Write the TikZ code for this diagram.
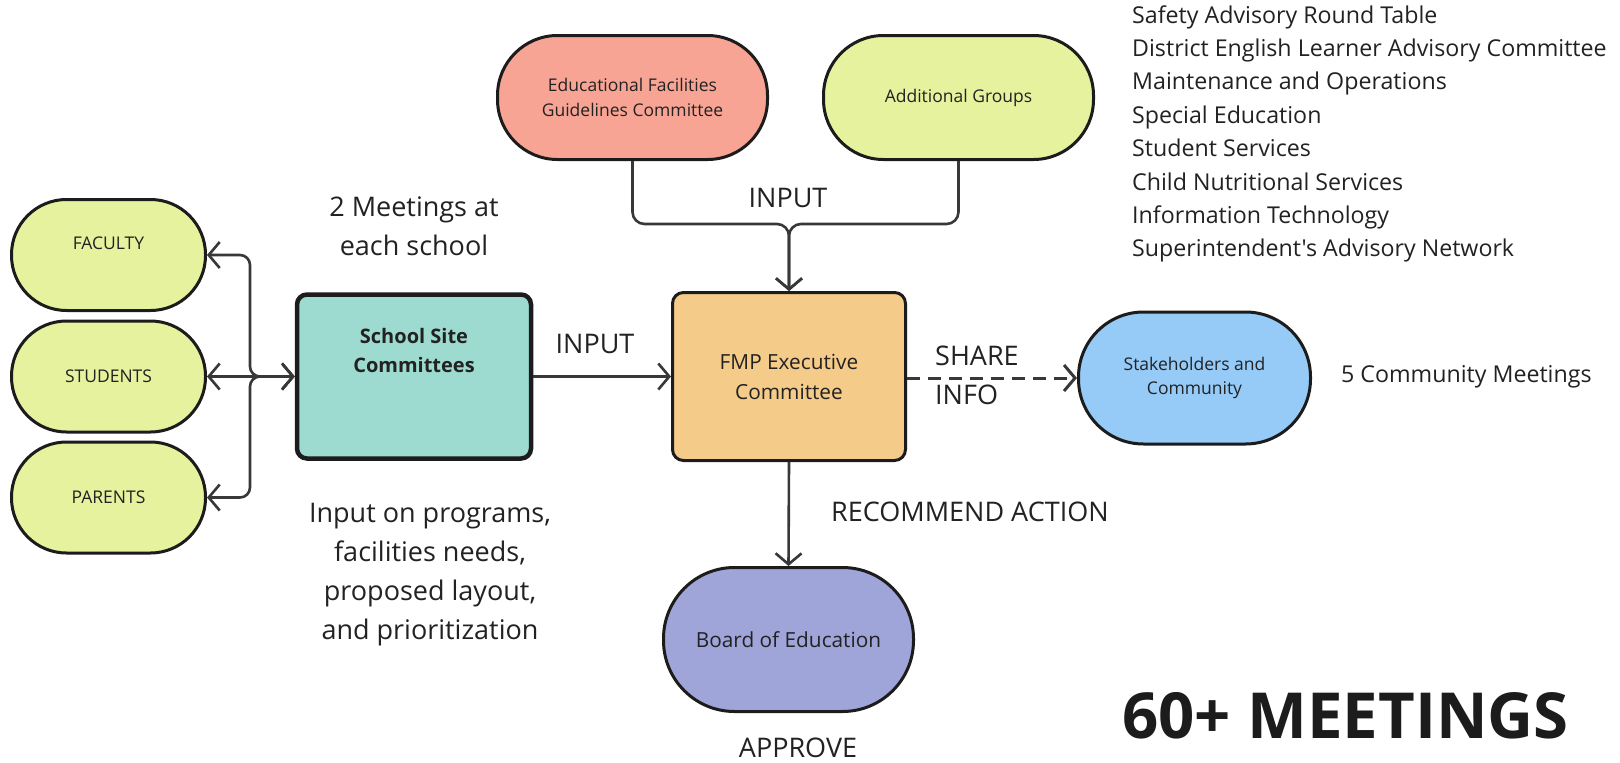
\documentclass[tikz,border=0pt]{standalone}
\usepackage{fontspec}
\setmainfont{Open Sans}[Ligatures=TeXOff]
\usetikzlibrary{arrows.meta}
\definecolor{ygreen}{HTML}{E6F29D}
\definecolor{salmon}{HTML}{F8A494}
\definecolor{teal}{HTML}{9DDBD0}
\definecolor{orangey}{HTML}{F5CB8A}
\definecolor{skyb}{HTML}{96CAF7}
\definecolor{lilac}{HTML}{9FA5D8}
\definecolor{linec}{HTML}{1C1C1C}
\definecolor{connc}{HTML}{383838}
\definecolor{txt}{HTML}{222222}
\newcommand\nodefont{\fontsize{17.5}{24.5}\selectfont}
\newcommand\bignodefont{\fontsize{20.8}{30}\selectfont}
\newcommand\labfont{\fontsize{27}{39}\selectfont}
\newcommand\listfont{\fontsize{23.2}{33.4}\selectfont}
\begin{document}
\begin{tikzpicture}[x=1pt,y=-1pt,
  shapebox/.style={draw=linec, line width=3pt, rectangle, inner sep=0pt, text=txt, align=center, font=\nodefont},
  conn/.style={draw=connc, line width=2.6pt, -{Straight Barb[length=11pt,width=26pt]}},
  biconn/.style={draw=connc, line width=2.6pt, {Straight Barb[length=11pt,width=26pt]}-{Straight Barb[length=11pt,width=26pt]}},
  dconn/.style={conn, line width=3pt, dash pattern=on 13pt off 8pt},
  lab/.style={text=txt, inner sep=0pt, align=center}]
\useasboundingbox[fill=white] (0,0) rectangle (1620,763);

% left group
\node[shapebox, fill=ygreen, minimum width=194pt, minimum height=111pt, rounded corners=55pt] (fac) at (108.5,255) {\raisebox{24pt}{FACULTY}};
\node[shapebox, fill=ygreen, minimum width=194pt, minimum height=111pt, rounded corners=55pt] (stu) at (108.5,376.5) {STUDENTS};
\node[shapebox, fill=ygreen, minimum width=194pt, minimum height=111pt, rounded corners=55pt] (par) at (108.5,497.5) {PARENTS};

% school site
\node[shapebox, fill=teal, line width=4.5pt, minimum width=234pt, minimum height=164pt, rounded corners=10pt] (ss) at (414,376.5) {};
\node[lab, font=\bfseries\fontsize{20}{29}\selectfont] (sstext) at (414,350.5) {School Site\\Committees};

% FMP
\node[shapebox, fill=orangey, minimum width=233pt, minimum height=168pt, rounded corners=11pt, font=\bignodefont] (fmp) at (789,376.5) {FMP Executive\\Committee};

% top
\node[shapebox, fill=salmon, minimum width=270pt, minimum height=124pt, rounded corners=60pt] (ef) at (632.5,97.5) {Educational Facilities\\Guidelines Committee};
\node[shapebox, fill=ygreen, minimum width=270pt, minimum height=124pt, rounded corners=60pt] (ag) at (958.5,97.5) {Additional Groups};

% stakeholders
\node[shapebox, fill=skyb, minimum width=232pt, minimum height=132pt, rounded corners=65pt] (sc) at (1194.5,378) {Stakeholders and\\Community};

% board
\node[shapebox, fill=lilac, minimum width=250pt, minimum height=144pt, rounded corners=71pt, font=\bignodefont] (boe) at (788.5,639.5) {Board of Education};

% connectors
\coordinate (bus) at (250,0);
\coordinate (mj) at (789,224);
\draw[biconn, rounded corners=10pt] (ss.west) -- (ss.west -| bus) |- (fac.east);
\draw[biconn] (ss.west) -- (stu.east);
\draw[biconn, rounded corners=10pt] (ss.west) -- (ss.west -| bus) |- (par.east);
\draw[conn] (ss.east) -- (fmp.west);
\draw[conn, rounded corners=12pt] (ef.south) |- (mj) -- (fmp.north);
\draw[conn, rounded corners=12pt] (ag.south) |- (mj) -- (fmp.north);
\draw[dconn] (fmp.east |- sc.west) -- (sc.west);
\draw[conn] (fmp.south) -- (boe.north);

% labels
\node[lab, font=\labfont] (meet2) at (414,226) {2 Meetings at\\each school};
\node[lab, font=\labfont] (inputon) at (430,575) {Input on programs,\\facilities needs,\\proposed layout,\\and prioritization};
\node[lab, font=\labfont] (inputtop) at (788,198) {INPUT};
\node[lab, font=\labfont] (inputleft) at (595,344) {INPUT};
\node[lab, font=\labfont, align=left, anchor=west] (share) at (935,375) {SHARE\\INFO};
\node[lab, font=\labfont, anchor=west] (recom) at (831,512) {RECOMMEND ACTION};
\node[lab, font=\labfont] (approve) at (798,748) {APPROVE};
\node[lab, font=\listfont, anchor=west] (comm) at (1341,377) {5 Community Meetings};
\node[lab, font=\listfont, align=left, anchor=west] (groups) at (1132,134) {Safety Advisory Round Table\\District English Learner Advisory Committee\\Maintenance and Operations\\Special Education\\Student Services\\Child Nutritional Services\\Information Technology\\Superintendent's Advisory Network};
\node[lab, font=\bfseries\fontsize{63.5}{70}\selectfont, anchor=west, text=linec] (sixty) at (1122,716) {60+ MEETINGS};
\end{tikzpicture}
\end{document}
